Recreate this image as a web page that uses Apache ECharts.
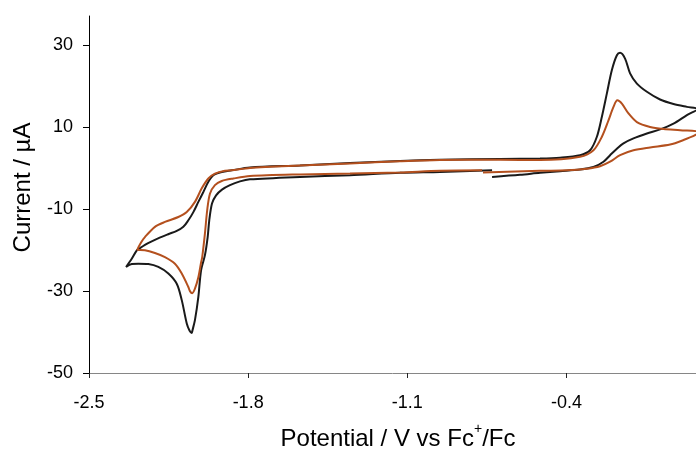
<!DOCTYPE html>
<html><head><meta charset="utf-8">
<script src="https://cdn.jsdelivr.net/npm/echarts@6/dist/echarts.min.js"></script>
<style>html,body{margin:0;padding:0;background:#fff}#c{width:696px;height:452px}</style>
</head><body><div id="c"></div>
<script>
const xTicks = [-2.5, -1.8, -1.1, -0.4];
const yTicks = [-50, -30, -10, 10, 30];

const blackPotential = [-0.727,-0.956,-1.132,-1.352,-1.572,-1.792,-1.836,-1.880,-1.915,-1.941,-1.959,-1.971,-1.978,-1.990,-2.007,-2.019,-2.034,-2.045,-2.048,-2.058,-2.070,-2.092,-2.114,-2.151,-2.195,-2.239,-2.283,-2.312,-2.337,
  -2.312,-2.289,-2.276,-2.240,-2.196,-2.152,-2.114,-2.085,-2.063,-2.041,-2.019,-1.997,-1.975,-1.953,-1.916,-1.872,-1.792,-1.572,-1.352,-1.132,-0.956,-0.692,-0.516,-0.428,-0.340,-0.296,-0.266,-0.244,-0.222,-0.200,-0.178,-0.164,-0.142,-0.120,-0.090,-0.046,0.012,0.071,0.130,0.178,
  0.130,0.071,0.012,-0.046,-0.105,-0.149,-0.178,-0.208,-0.237,-0.281,-0.340,-0.428,-0.516,-0.604,-0.727];
const blackCurrent = [-0.5,-0.9,-1.1,-1.7,-2.1,-2.7,-3.2,-4.1,-5.2,-6.6,-8.6,-12.7,-16.8,-21.2,-24.9,-31.4,-37.1,-39.6,-40.2,-39.6,-37.9,-32.2,-28.2,-25.7,-24.1,-23.4,-23.3,-23.4,-24.1,
  -22.1,-20.0,-19.5,-18.3,-17.1,-16.1,-15.3,-14.3,-12.7,-10.7,-8.2,-5.8,-3.3,-1.7,-0.9,-0.5,0.2,0.7,1.3,1.8,2.1,2.3,2.4,2.6,3.2,4.4,7.7,12.6,18.3,24.0,27.6,28.2,26.8,23.2,20.7,18.7,16.8,15.7,15.0,14.5,
  13.0,10.9,9.5,8.5,7.3,6.1,4.8,3.2,1.6,0.3,-0.3,-0.7,-1.1,-1.6,-2.1];

const brownPotential = [-0.771,-0.956,-1.132,-1.352,-1.572,-1.792,-1.865,-1.916,-1.946,-1.968,-1.980,-1.990,-2.002,-2.007,-2.019,-2.034,-2.046,-2.056,-2.063,-2.092,-2.122,-2.166,-2.210,-2.254,-2.287,
  -2.271,-2.254,-2.210,-2.166,-2.107,-2.070,-2.034,-2.004,-1.975,-1.946,-1.902,-1.872,-1.792,-1.572,-1.352,-1.132,-0.956,-0.692,-0.516,-0.340,-0.281,-0.244,-0.215,-0.193,-0.176,-0.156,-0.127,-0.090,-0.032,0.027,0.100,0.185,
  0.170,0.115,0.056,-0.032,-0.105,-0.164,-0.208,-0.252,-0.310,-0.398,-0.516,-0.767];
const brownCurrent = [-0.5,-0.6,-1.0,-1.3,-1.5,-1.9,-2.5,-3.1,-4.1,-6.2,-10.2,-15.9,-21.7,-23.0,-26.6,-29.4,-30.5,-30.0,-29.0,-25.7,-23.3,-21.7,-20.7,-20.0,-19.9,
  -18.1,-16.8,-14.3,-13.1,-11.9,-10.7,-8.2,-4.9,-2.5,-1.3,-0.6,-0.5,0.1,0.7,1.2,1.7,2.0,2.1,2.0,2.8,4.4,7.7,11.7,15.0,16.6,15.8,13.4,11.3,10.1,9.6,9.3,8.9,
  8.2,6.9,5.8,5.1,4.4,3.2,1.6,0.5,-0.1,-0.5,-0.6,-1.0];

const zip = (a, b) => a.map((v, i) => [v, b[i]]);
const FONT = "'Liberation Sans', Arial, sans-serif";

const chart = echarts.init(document.getElementById('c'), null, {renderer: 'canvas'});
chart.setOption({
  animation: false,
  backgroundColor: '#fff',
  grid: {left: 89, right: 0, top: 16, bottom: 79, outerBoundsMode: 'none', containLabel: false},
  xAxis: {
    type: 'value', min: -2.5, max: 0.17,
    axisLine: {show: true, onZero: false, lineStyle: {color: '#868686', width: 1}},
    axisTick: {show: true, inside: false, length: 5, customValues: xTicks, lineStyle: {color: '#222'}},
    axisLabel: {customValues: xTicks, margin: 21, fontSize: 18, fontFamily: FONT, color: '#000',
      formatter: v => v.toFixed(1)},
    splitLine: {show: false},
    name: '{m|Potential / V vs Fc}{s|+}{m|/Fc}',
    nameLocation: 'middle', nameGap: 49,
    nameTextStyle: {padding: [0, 0, 0, 11], rich: {
      m: {fontSize: 24, lineHeight: 34, fontFamily: FONT, color: '#000'},
      s: {fontSize: 14, lineHeight: 14, fontFamily: FONT, color: '#000', verticalAlign: 'top'}
    }}
  },
  yAxis: {
    type: 'value', min: -50, max: 37.2,
    axisLine: {show: true, onZero: false, lineStyle: {color: '#000', width: 1}},
    axisTick: {show: true, inside: false, length: 6, customValues: yTicks, lineStyle: {color: '#000'}},
    axisLabel: {customValues: yTicks, margin: 16, fontSize: 18, fontFamily: FONT, color: '#000'},
    splitLine: {show: false},
    name: 'Current / µA',
    nameLocation: 'middle', nameGap: 54,
    nameTextStyle: {fontSize: 24, fontFamily: FONT, color: '#000', padding: [0, 0, 0, 14]}
  },
  series: [
    {type: 'line', data: zip(blackPotential, blackCurrent), showSymbol: false, clip: true, smooth: 0.3,
      lineStyle: {color: '#1a1a1a', width: 2}, itemStyle: {color: '#1a1a1a'}},
    {type: 'line', data: zip(brownPotential, brownCurrent), showSymbol: false, clip: true, smooth: 0.3,
      lineStyle: {color: '#b4501e', width: 2}, itemStyle: {color: '#b4501e'}}
  ]
});
</script>
</body></html>
